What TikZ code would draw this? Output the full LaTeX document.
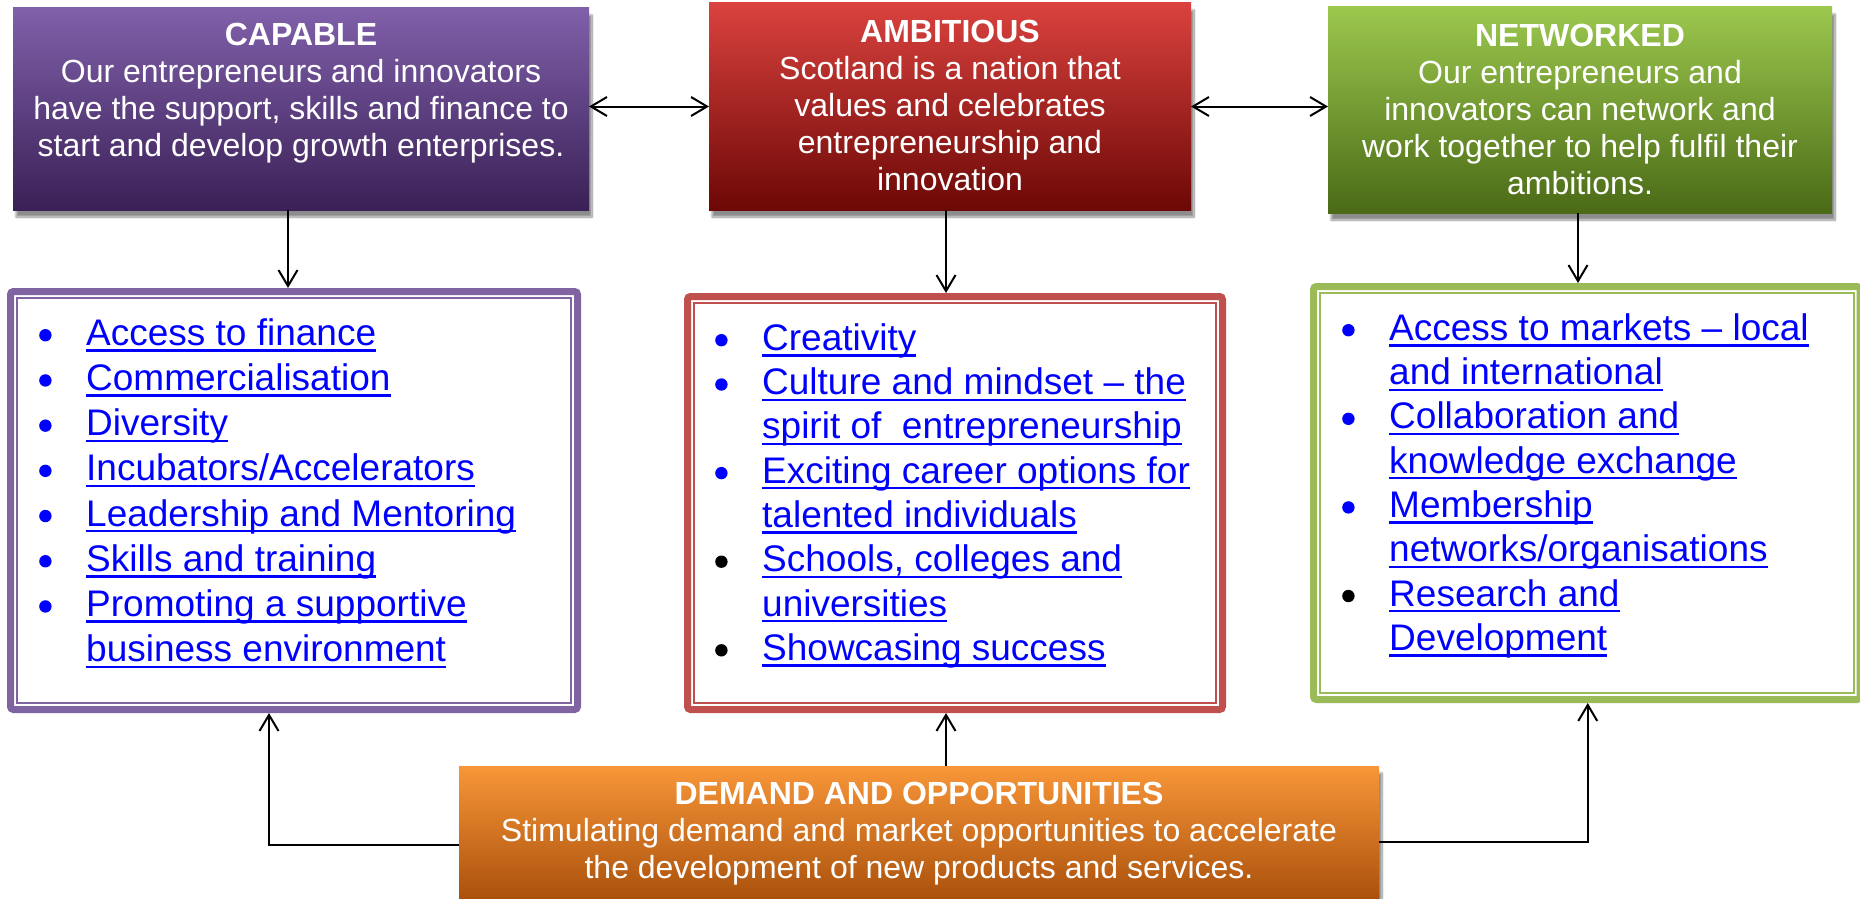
\documentclass[tikz,border=0pt]{standalone}
\usepackage{fontspec}
\setmainfont{Liberation Sans}
\usetikzlibrary{arrows.meta,shadows.blur}

\definecolor{linkblue}{RGB}{0,0,255}
\definecolor{caplight}{RGB}{128,96,170}
\definecolor{capdark}{RGB}{58,32,86}
\definecolor{capedge}{RGB}{128,100,162}
\definecolor{amblight}{RGB}{218,66,62}
\definecolor{ambdark}{RGB}{108,8,6}
\definecolor{ambedge}{RGB}{192,80,77}
\definecolor{netlight}{RGB}{156,200,78}
\definecolor{netdark}{RGB}{74,106,22}
\definecolor{netedge}{RGB}{155,187,89}
\definecolor{demlight}{RGB}{248,150,56}
\definecolor{demdark}{RGB}{160,72,6}

% underlined link text
\newsavebox\lnkbox
\newcommand{\lnk}[1]{\sbox\lnkbox{#1}\rlap{\rule[-6.3pt]{\wd\lnkbox}{2.3pt}}\usebox\lnkbox}

% round bullet dot
\newcommand{\bulletdot}[1]{\tikz[baseline=0pt]\fill[#1] (6.5pt,10pt) circle (6.2pt);}

% list lines: bullet + link text, or continuation line
\newcommand{\itm}[2][linkblue]{\strut\makebox[47pt][l]{\bulletdot{#1}}\lnk{#2}}
\newcommand{\cnt}[1]{\strut\hspace*{47pt}\lnk{#1}}

\tikzset{
  topbox/.style={rectangle, inner sep=0pt, outer sep=0pt,
    blur shadow={shadow xshift=3pt, shadow yshift=-7pt, shadow blur steps=10, shadow opacity=45}},
  boxtext/.style={anchor=north, inner sep=0pt, align=center, text=white,
    font=\fontsize{32}{37}\selectfont},
  listbox/.style={rectangle, draw=#1, line width=7pt, rounded corners=3pt, fill=white},
  listtext/.style={anchor=north west, inner sep=0pt, align=left, text=linkblue,
    font=\fontsize{37}{#1}\selectfont},
  listtext/.default=44.3,
  innerline/.style={draw=#1, line width=2pt},
  oneway/.style={-{Straight Barb[length=16pt,width=19pt,line width=2pt]}, line width=2pt},
  twoway/.style={{Straight Barb[length=16pt,width=19pt,line width=2pt]}-{Straight Barb[length=16pt,width=19pt,line width=2pt]}, line width=2pt}
}

\begin{document}
\begin{tikzpicture}[x=1pt,y=-1pt]
  \useasboundingbox (0,0) rectangle (1860,899);

  % the three headline boxes
  \node[topbox, top color=caplight, bottom color=capdark, minimum width=576pt, minimum height=202pt] (capable) at (301,109) {};
  \node[topbox, top color=amblight, bottom color=ambdark, minimum width=482pt, minimum height=207pt] (ambitious) at (950,106.5) {};
  \node[topbox, top color=netlight, bottom color=netdark, minimum width=504pt, minimum height=206pt] (networked) at (1580,110) {};

  \node[boxtext] (captext) at ([yshift=-11pt]capable.north)
    {\strut\textbf{CAPABLE}\\Our entrepreneurs and innovators\\have the support, skills and finance to\\start and develop growth enterprises.};
  \node[boxtext] (ambtext) at ([yshift=-13pt]ambitious.north)
    {\strut\textbf{AMBITIOUS}\\Scotland is a nation that\\values and celebrates\\entrepreneurship and\\innovation};
  \node[boxtext] (nettext) at ([yshift=-13pt]networked.north)
    {\strut\textbf{NETWORKED}\\Our entrepreneurs and\\innovators can network and\\work together to help fulfil their\\ambitions.};

  % demand box at the foot
  \node[topbox, top color=demlight, bottom color=demdark, minimum width=920pt, minimum height=150pt] (demand) at (919,841) {};
  \node[boxtext] (demtext) at ([yshift=-12pt]demand.north)
    {\strut\textbf{DEMAND AND OPPORTUNITIES}\\Stimulating demand and market opportunities to accelerate\\the development of new products and services.};

  % list boxes
  \node[listbox=capedge, minimum width=567pt, minimum height=418pt] (caplist) at (294,500.5) {};
  \node[listbox=ambedge, minimum width=535pt, minimum height=413pt] (amblist) at (955,503) {};
  \node[listbox=netedge, minimum width=546.5pt, minimum height=413pt] (netlist) at (1586.75,493) {};

  \foreach \lst/\col in {caplist/capedge, amblist/ambedge, netlist/netedge}
    \draw[innerline=\col] ([shift={(10pt,-10pt)}]\lst.north west) rectangle ([shift={(-10pt,10pt)}]\lst.south east);

  \node[listtext=45.2] (capitems) at ([shift={(32pt,-25.4pt)}]caplist.north west)
    {\itm{Access to finance}\\
     \itm{Commercialisation}\\
     \itm{Diversity}\\
     \itm{Incubators/Accelerators}\\
     \itm{Leadership and Mentoring}\\
     \itm{Skills and training}\\
     \itm{Promoting a supportive}\\
     \cnt{business environment}};
  \node[listtext] (ambitems) at ([shift={(31pt,-26pt)}]amblist.north west)
    {\itm{Creativity}\\
     \itm{Culture and mindset -- the}\\
     \cnt{spirit of\ \ entrepreneurship}\\
     \itm{Exciting career options for}\\
     \cnt{talented individuals}\\
     \itm[black]{Schools, colleges and}\\
     \cnt{universities}\\
     \itm[black]{Showcasing success}};
  \node[listtext] (netitems) at ([shift={(32pt,-26pt)}]netlist.north west)
    {\itm{Access to markets -- local}\\
     \cnt{and international}\\
     \itm{Collaboration and}\\
     \cnt{knowledge exchange}\\
     \itm{Membership}\\
     \cnt{networks/organisations}\\
     \itm[black]{Research and}\\
     \cnt{Development}};

  % connectors
  \draw[twoway] (capable.east |- ambitious.west) -- (ambitious.west);
  \draw[twoway] (ambitious.east) -- (ambitious.east -| networked.west);

  \draw[oneway] ([xshift=-13pt]capable.south) -- ([xshift=-13pt]capable.south |- caplist.north);
  \draw[oneway] ([xshift=-4pt]ambitious.south) -- ([xshift=-4pt]ambitious.south |- amblist.north);
  \draw[oneway] ([xshift=-2pt]networked.south) -- ([xshift=-2pt]networked.south |- netlist.north);

  \draw[oneway] ([yshift=-4pt]demand.west) -| ([xshift=-25pt]caplist.south);
  \draw[oneway] ([xshift=27pt]demand.north) -- ([xshift=27pt]demand.north |- amblist.south);
  \draw[oneway] ([yshift=-1pt]demand.east) -| ([xshift=1pt]netlist.south);
\end{tikzpicture}
\end{document}
